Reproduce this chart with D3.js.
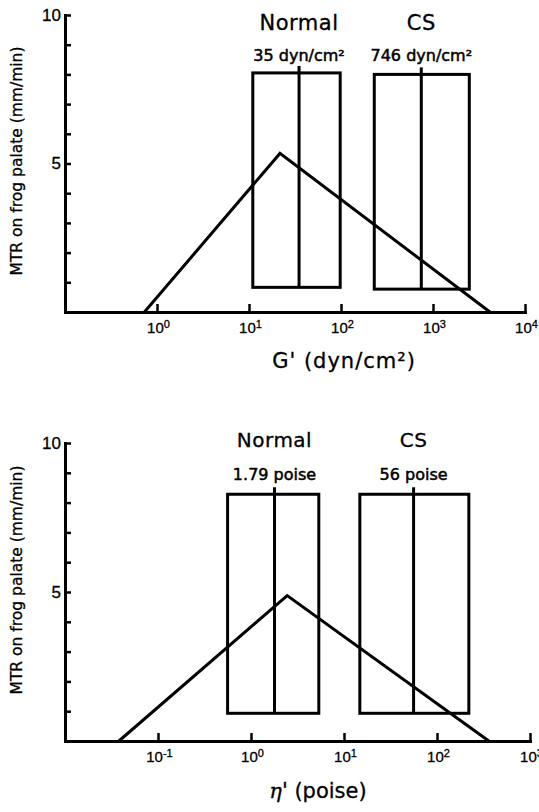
<!DOCTYPE html>
<html>
<head>
<meta charset="utf-8">
<script src="https://cdn.jsdelivr.net/npm/d3@7"></script>
<style>
	body { margin: 0; background: #fff; }
	svg { display: block; font-family: "DejaVu Sans", sans-serif; }
	.axis path, .axis line { stroke: #000; stroke-width: 3; }
	.axis line { stroke-width: 2.5; }
	.axis text { fill: #000; stroke: #000; stroke-width: 0.3; }
	.lab { fill: #000; stroke: #000; stroke-width: 0.3; }
</style>
</head>
<body>
<div id="graphic"></div>
<script>
// top panel: storage modulus G'
const gGroups = ['Normal', 'CS'];
const gLow = [11, 230];
const gHigh = [98, 2480];
const gMedian = [35, 746];
const gBoxTop = [8.05, 8.0];
const gBoxBottom = [0.83, 0.77];
const gMedianLabels = ['35 dyn/cm²', '746 dyn/cm²'];
const gLine = [[0.73, 0], [21.7, 5.34], [4160, 0]];
const gXTicks = [1, 10, 100, 1000, 10000];

// bottom panel: dynamic viscosity eta'
const eGroups = ['Normal', 'CS'];
const eLow = [0.56, 14.8];
const eHigh = [5.36, 220];
const eMedian = [1.79, 56];
const eBoxTop = [8.28, 8.28];
const eBoxBottom = [0.93, 0.93];
const eMedianLabels = ['1.79 poise', '56 poise'];
const eLine = [[0.038, 0], [2.45, 4.88], [361, 0]];
const eXTicks = [0.1, 1, 10, 100, 1000];

const yTicks = d3.range(0, 11);
const yLabelled = [5, 10];
const yTitle = 'MTR on frog palate (mm/min)';

const width = 539, height = 812;

let svg = d3.select('#graphic').append('svg')
	.attr('width', width)
	.attr('height', height);

function drawPanel(p) {
	const x = d3.scaleLog().domain(p.xDomain).range(p.xRange);
	const y = d3.scaleLinear().domain([0, 10]).range(p.yRange);
	const g = svg.append('g');

	// x axis, ticks point up into the plot
	const xAxis = d3.axisBottom(x)
		.tickValues(p.xTicks)
		.tickSize(-8)
		.tickSizeOuter(0)
		.tickPadding(10);

	const xg = g.append('g')
		.attr('class', 'axis')
		.attr('transform', `translate(0,${p.yRange[0]})`)
		.call(xAxis);

	xg.selectAll('.tick text')
		.attr('dx', 1)
		.style('font-size', '15px')
		.text(null)
		.each(function (d) {
			const t = d3.select(this);
			t.append('tspan').text('10');
			t.append('tspan')
				.attr('dy', '-0.4em')
				.style('font-size', '11px')
				.text(Math.round(Math.log10(d)));
		});

	// y axis, ticks point right
	const yAxis = d3.axisLeft(y)
		.tickValues(yTicks)
		.tickSize(-6)
		.tickSizeOuter(0)
		.tickPadding(4)
		.tickFormat((d) => yLabelled.includes(d) ? d : '');

	g.append('g')
		.attr('class', 'axis')
		.attr('transform', `translate(${p.xRange[0]},0)`)
		.call(yAxis)
		.selectAll('text')
		.style('font-size', '17px');

	g.selectAll('.domain').attr('stroke-linecap', 'square');

	// boxes
	g.selectAll('rect.box')
		.data(p.groups)
		.join('rect')
		.attr('class', 'box')
		.attr('x', (d, i) => x(p.low[i]))
		.attr('width', (d, i) => x(p.high[i]) - x(p.low[i]))
		.attr('y', (d, i) => y(p.top[i]))
		.attr('height', (d, i) => y(p.bottom[i]) - y(p.top[i]))
		.attr('fill', 'none')
		.attr('stroke', '#000')
		.attr('stroke-width', 3);

	// median lines poke a little above the box
	g.selectAll('line.median')
		.data(p.groups)
		.join('line')
		.attr('class', 'median')
		.attr('x1', (d, i) => x(p.median[i]))
		.attr('x2', (d, i) => x(p.median[i]))
		.attr('y1', (d, i) => y(p.top[i]) - 7)
		.attr('y2', (d, i) => y(p.bottom[i]))
		.attr('stroke', '#000')
		.attr('stroke-width', 3);

	// triangle
	g.append('path')
		.datum(p.line)
		.attr('d', d3.line().x((d) => x(d[0])).y((d) => y(d[1])))
		.attr('fill', 'none')
		.attr('stroke', '#000')
		.attr('stroke-width', 3);

	// group names and medians
	g.selectAll('text.group')
		.data(p.groups)
		.join('text')
		.attr('class', 'group lab')
		.attr('x', (d, i) => x(p.median[i]))
		.attr('y', p.nameY)
		.attr('text-anchor', 'middle')
		.style('font-size', p.nameSize + 'px')
		.style('letter-spacing', '0.5px')
		.text((d) => d);

	g.selectAll('text.medlab')
		.data(p.medianLabels)
		.join('text')
		.attr('class', 'medlab lab')
		.attr('x', (d, i) => x(p.median[i]))
		.attr('y', p.valueY)
		.attr('text-anchor', 'middle')
		.style('font-size', '16px')
		.style('stroke-width', 0.5)
		.text((d) => d);

	// y title
	g.append('text')
		.attr('class', 'lab')
		.attr('transform', `translate(22,${p.yTitleY}) rotate(-90)`)
		.attr('text-anchor', 'middle')
		.style('font-size', '15.5px')
		.text(yTitle);

	// x title
	const xt = g.append('text')
		.attr('class', 'lab')
		.attr('x', p.xTitleX)
		.attr('y', p.xTitleY)
		.attr('text-anchor', 'middle')
		.style('font-size', '21px');
	p.xTitle(xt);
}

drawPanel({
	xDomain: [0.1, 10000], xRange: [65, 525], yRange: [312, 15],
	xTicks: gXTicks, groups: gGroups, low: gLow, high: gHigh, median: gMedian,
	top: gBoxTop, bottom: gBoxBottom, medianLabels: gMedianLabels, line: gLine,
	nameY: 30, nameSize: 21, valueY: 61, yTitleY: 161,
	xTitleX: 344, xTitleY: 368,
	xTitle: (t) => t.style('letter-spacing', '1px').text("G' (dyn/cm²)")
});

drawPanel({
	xDomain: [0.01, 1000], xRange: [65, 530], yRange: [741, 443],
	xTicks: eXTicks, groups: eGroups, low: eLow, high: eHigh, median: eMedian,
	top: eBoxTop, bottom: eBoxBottom, medianLabels: eMedianLabels, line: eLine,
	nameY: 447, nameSize: 20, valueY: 480, yTitleY: 580,
	xTitleX: 318, xTitleY: 798,
	xTitle: (t) => {
		t.append('tspan').style('font-style', 'italic').style('font-family', '"DejaVu Serif", serif').text('η');
		t.append('tspan').text("' (poise)");
	}
});
</script>
</body>
</html>
